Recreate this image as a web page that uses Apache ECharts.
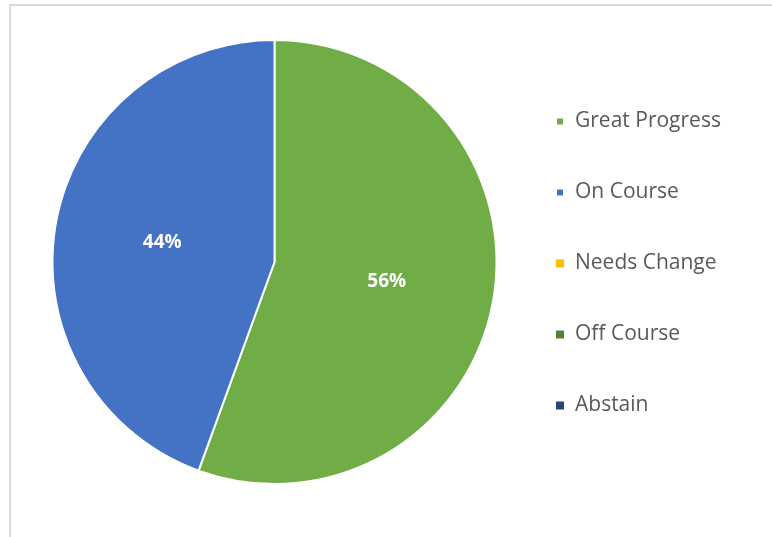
<!DOCTYPE html>
<html>
<head>
<meta charset="utf-8">
<script src="https://cdn.jsdelivr.net/npm/echarts@6/dist/echarts.min.js"></script>
<style>
html,body{margin:0;padding:0;background:#fff;}
#main{width:772px;height:537px;}
</style>
</head>
<body>
<div id="main"></div>
<script>
const categories = ['Great Progress', 'On Course', 'Needs Change', 'Off Course', 'Abstain'];
const values = [5, 4, 0, 0, 0];
const colors = ['#70AD47', '#4472C4', '#FFC000', '#548235', '#264478'];

const chart = echarts.init(document.getElementById('main'));
const data = categories.map((c, i) => ({
  name: c,
  value: values[i],
  itemStyle: { color: colors[i], borderWidth: values[i] > 0 ? 2 : 0 }
}));

chart.setOption({
  animation: false,
  graphic: [{
    type: 'rect',
    shape: { x: 10, y: 5, width: 800, height: 600 },
    style: { fill: 'none', stroke: '#d9d9d9', lineWidth: 2 },
    silent: true,
    z: -10
  }],
  legend: {
    orient: 'vertical',
    left: 555,
    top: 111,
    padding: 0,
    itemWidth: 8,
    itemHeight: 8,
    itemGap: 50,
    icon: 'rect',
    data: categories,
    textStyle: {
      fontFamily: '"Open Sans", "Noto Sans", sans-serif',
      fontSize: 21,
      lineHeight: 21,
      color: '#595959',
      padding: [0, 0, 0, 6]
    }
  },
  series: [{
    type: 'pie',
    center: [274.5, 262],
    radius: 222,
    startAngle: 90,
    clockwise: true,
    percentPrecision: 0,
    avoidLabelOverlap: false,
    itemStyle: { borderColor: '#ffffff', borderWidth: 2 },
    label: {
      show: true,
      position: 'inside',
      formatter: p => p.value > 0 ? p.percent + '%' : '',
      color: '#ffffff',
      fontWeight: 'bold',
      fontSize: 19,
      fontFamily: '"Open Sans", "Noto Sans", sans-serif'
    },
    labelLine: { show: false },
    emphasis: { disabled: true },
    data: data
  }]
});
</script>
</body>
</html>
